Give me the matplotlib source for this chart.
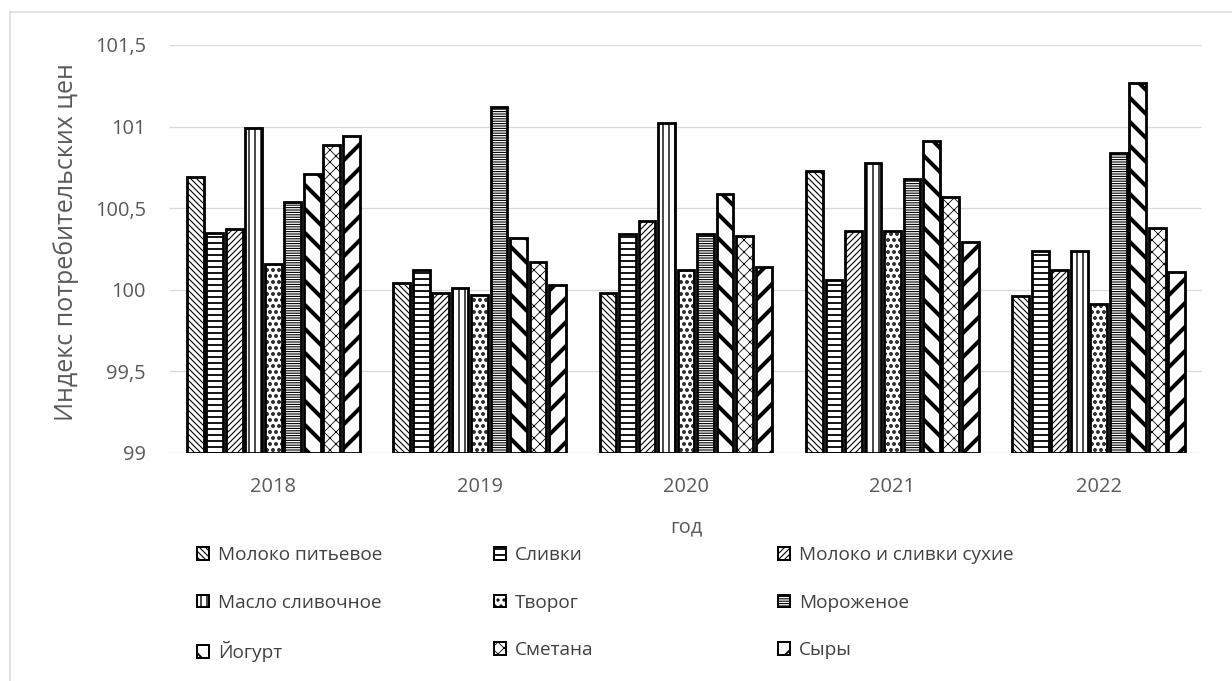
import matplotlib
matplotlib.use('Agg')
import matplotlib.pyplot as plt
from matplotlib.lines import Line2D
from matplotlib.ticker import FuncFormatter
import numpy as np

# Данные: индекс потребительских цен по молочной продукции
years = ['2018', '2019', '2020', '2021', '2022']
products = ['Молоко питьевое', 'Сливки', 'Молоко и сливки сухие',
            'Масло сливочное', 'Творог', 'Мороженое',
            'Йогурт', 'Сметана', 'Сыры']
moloko = [100.69, 100.04, 99.98, 100.73, 99.96]
slivki = [100.35, 100.12, 100.34, 100.06, 100.24]
suhie = [100.37, 99.98, 100.42, 100.36, 100.12]
maslo = [100.99, 100.01, 101.02, 100.78, 100.24]
tvorog = [100.16, 99.97, 100.12, 100.36, 99.91]
morozhenoe = [100.54, 101.12, 100.34, 100.68, 100.84]
yogurt = [100.71, 100.32, 100.59, 100.91, 101.27]
smetana = [100.89, 100.17, 100.33, 100.57, 100.38]
syry = [100.94, 100.03, 100.14, 100.29, 100.11]
series = [moloko, slivki, suhie, maslo, tvorog, morozhenoe, yogurt, smetana, syry]

# Штриховки (узор, толщина линии)
hatches = [('\\\\\\\\', 1.1), ('--', 1.8), ('////', 1.1), ('||', 1.4),
           ('..', 2.5), ('-----', 1.1), ('\\', 4.0), ('xx', 0.8), ('/', 4.0)]

grey = '#595959'
plt.rcParams['font.family'] = ['Open Sans', 'DejaVu Sans']

fig = plt.figure(figsize=(1232 / 72, 681 / 72), dpi=72)
ax = fig.add_axes([170 / 1232, 1 - 453 / 681, 1032 / 1232, 408 / 681])

x = np.arange(len(years))
slot = 0.85 / len(series)
bars = []
for i, vals in enumerate(series):
    h, lw = hatches[i]
    plt.rcParams['hatch.linewidth'] = lw
    b = ax.bar(x - 0.425 + slot * (i + 0.5), np.array(vals) - 99, bottom=99,
               width=slot * 0.86, color='white', edgecolor='black',
               linewidth=2.8, hatch=h, label=products[i], zorder=3)
    bars.append(b)
plt.rcParams['hatch.linewidth'] = 1.0

ax.set_xlim(-0.5, 4.5)
ax.set_ylim(99, 101.5)
ax.set_yticks([99, 99.5, 100, 100.5, 101, 101.5])
ax.yaxis.set_major_formatter(FuncFormatter(lambda v, p: ('%g' % v).replace('.', ',')))
ax.set_xticks(x)
ax.set_xticklabels(years)
ax.tick_params(length=0, labelsize=20, colors=grey)
ax.tick_params(axis='x', pad=24)
ax.tick_params(axis='y', pad=24)
ax.grid(axis='y', color='#d9d9d9', linewidth=1.3, zorder=0)
for s in ax.spines.values():
    s.set_visible(False)

ax.set_ylabel('Индекс потребительских цен', fontsize=25, color=grey)
ax.yaxis.set_label_coords(-0.088, 0.517)
ax.set_xlabel('год', fontsize=20, color=grey, labelpad=20)

# Легенда в три колонки
col_x = [197 / 1232, 494 / 1232, 778 / 1232]
for c in range(3):
    idx = [c, c + 3, c + 6]
    leg = fig.legend([bars[k] for k in idx], [products[k] for k in idx],
                     loc='upper left', bbox_to_anchor=(col_x[c], 1 - 546 / 681),
                     frameon=False, fontsize=19, labelcolor='#404040',
                     handlelength=0.65, handleheight=0.65, handletextpad=0.45,
                     labelspacing=1.56, borderpad=0, borderaxespad=0)
    for hnd, k in zip(leg.legend_handles, idx):
        hnd.set_linewidth(2.0)
        if hasattr(hnd, 'set_hatch_linewidth'):
            hnd.set_hatch_linewidth(min(hatches[k][1], 2.0))

# Рамка диаграммы
fig.add_artist(Line2D([10 / 1232, 10 / 1232], [0, 1 - 12 / 681],
                      transform=fig.transFigure, color='#d9d9d9', linewidth=1.5))
fig.add_artist(Line2D([10 / 1232, 1], [1 - 12 / 681, 1 - 12 / 681],
                      transform=fig.transFigure, color='#d9d9d9', linewidth=1.5))

fig.savefig('out.png', dpi=72)
